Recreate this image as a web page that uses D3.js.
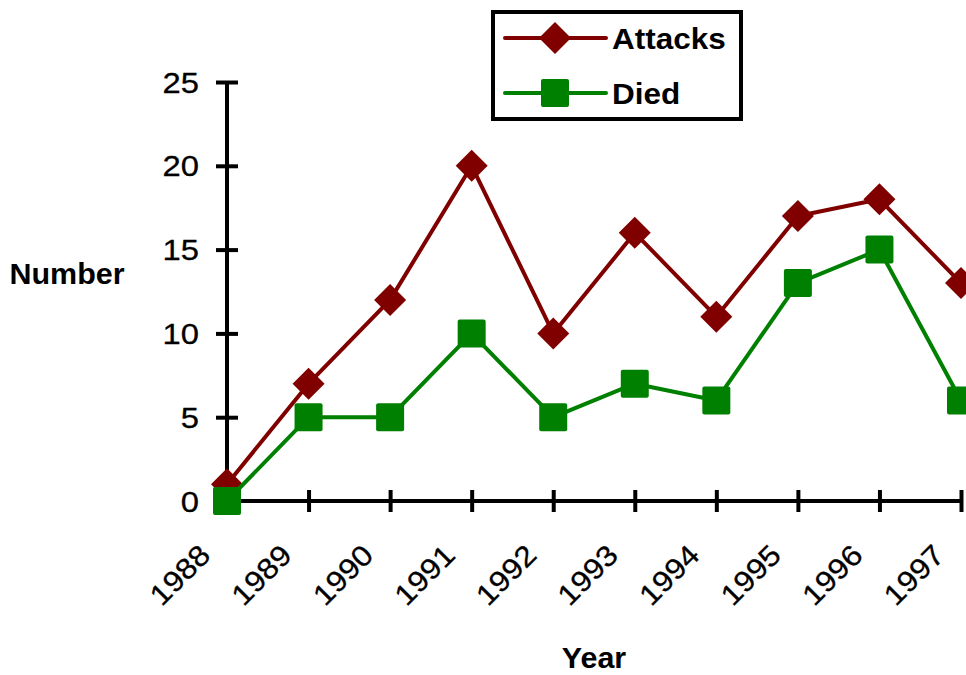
<!DOCTYPE html>
<html>
<head>
<meta charset="utf-8">
<script src="https://cdn.jsdelivr.net/npm/d3@7"></script>
<style>
  html, body { margin: 0; padding: 0; background: #fff; }
  svg { display: block; }
  text { font-family: "Liberation Sans", Arial, sans-serif; fill: #000; }
</style>
</head>
<body>
<div id="chart"></div>
<script>
// Yearly counts of attacks and deaths
const years = [1988, 1989, 1990, 1991, 1992, 1993, 1994, 1995, 1996, 1997];
const attacks = [1, 7, 12, 20, 10, 16, 11, 17, 18, 13];
const died = [0, 5, 5, 10, 5, 7, 6, 13, 15, 6];
const yTicks = [0, 5, 10, 15, 20, 25];
const seriesNames = ["Attacks", "Died"];
const seriesColors = ["#800000", "#008000"];

const W = 966, H = 675;
const svg = d3.select("#chart").append("svg").attr("width", W).attr("height", H);

const x = d3.scaleLinear().domain([years[0], years[years.length - 1]]).range([227, 961]);
const y = d3.scaleLinear().domain([0, 25]).range([501, 82]);

const axisStroke = 4;
const fontTick = 29;
const tickWiden = 1.13;   // slightly wide digits
const titleWiden = 1.05;

// Y axis
const yAxis = svg.append("g").attr("transform", `translate(${x(years[0])},0)`)
  .call(d3.axisLeft(y).tickValues(yTicks).tickSize(11).tickSizeOuter(0));
yAxis.select(".domain").attr("stroke", "#000").attr("stroke-width", axisStroke)
  .attr("d", `M0,${y(0)}V${y(25)}`);
yAxis.selectAll(".tick line").attr("x1", -11).attr("x2", 11)
  .attr("stroke", "#000").attr("stroke-width", axisStroke);
yAxis.selectAll(".tick text").remove();
yAxis.selectAll(".tick").append("text")
  .attr("transform", `translate(-28,0) scale(${tickWiden},1)`)
  .attr("text-anchor", "end")
  .attr("dy", "0.35em")
  .attr("font-size", fontTick)
  .attr("stroke", "#000").attr("stroke-width", 0.3)
  .text(d => d);

// X axis
const xAxis = svg.append("g").attr("transform", `translate(0,${y(0)})`)
  .call(d3.axisBottom(x).tickValues(years.slice(1)).tickSize(11).tickSizeOuter(0).tickFormat(d3.format("d")));
xAxis.select(".domain").attr("stroke", "#000").attr("stroke-width", axisStroke)
  .attr("d", `M${x(years[0])},0H${x(years[years.length - 1])}`);
xAxis.selectAll(".tick line").attr("y1", -11).attr("y2", 11)
  .attr("stroke", "#000").attr("stroke-width", axisStroke);
xAxis.selectAll(".tick text").remove();

// Rotated year labels
svg.append("g").selectAll("text").data(years).join("text")
  .attr("transform", d => `translate(${x(d) - 15},${y(0) + 56}) rotate(-45) scale(1.1,1)`)
  .attr("text-anchor", "end")
  .attr("font-size", fontTick)
  .attr("stroke", "#000").attr("stroke-width", 0.3)
  .text(d => d);

// Axis titles
svg.append("text").attr("transform", `translate(67,284) scale(${titleWiden},1)`).attr("text-anchor", "middle")
  .attr("font-size", 29).attr("font-weight", "bold").text("Number");
svg.append("text").attr("transform", `translate(594,668) scale(${titleWiden},1)`).attr("text-anchor", "middle")
  .attr("font-size", 29).attr("font-weight", "bold").text("Year");

// Series lines and markers
const line = d3.line().x((d, i) => x(years[i])).y(d => y(d));
const diamond = r => `M0,${-r}L${r},0L0,${r}L${-r},0Z`;

function drawSeries(values, color, kind) {
  svg.append("path").datum(values).attr("d", line)
    .attr("fill", "none").attr("stroke", color).attr("stroke-width", 4).attr("stroke-linejoin", "round");
  const g = svg.append("g");
  values.forEach((v, i) => {
    if (kind === "diamond") {
      g.append("path").attr("d", diamond(16)).attr("fill", color)
        .attr("transform", `translate(${x(years[i])},${y(v)})`);
    } else {
      g.append("rect").attr("x", x(years[i]) - 14).attr("y", y(v) - 14)
        .attr("width", 28).attr("height", 28).attr("rx", 2).attr("fill", color);
    }
  });
}
drawSeries(attacks, seriesColors[0], "diamond");
drawSeries(died, seriesColors[1], "square");

// Legend
const legend = svg.append("g");
legend.append("rect").attr("x", 493).attr("y", 12).attr("width", 248).attr("height", 107)
  .attr("fill", "#fff").attr("stroke", "#000").attr("stroke-width", 4);
[38, 93].forEach((ly, i) => {
  legend.append("line").attr("x1", 505).attr("x2", 606).attr("y1", ly).attr("y2", ly)
    .attr("stroke", seriesColors[i]).attr("stroke-width", 4).attr("stroke-linecap", "round");
  if (i === 0) {
    legend.append("path").attr("d", diamond(16)).attr("fill", seriesColors[i])
      .attr("transform", `translate(555,${ly})`);
  } else {
    legend.append("rect").attr("x", 555 - 14).attr("y", ly - 14).attr("width", 28).attr("height", 28)
      .attr("rx", 2).attr("fill", seriesColors[i]);
  }
  legend.append("text").attr("transform", `translate(612,${ly + 11}) scale(${titleWiden},1)`)
    .attr("font-size", 30).attr("font-weight", "bold").text(seriesNames[i]);
});
</script>
</body>
</html>
